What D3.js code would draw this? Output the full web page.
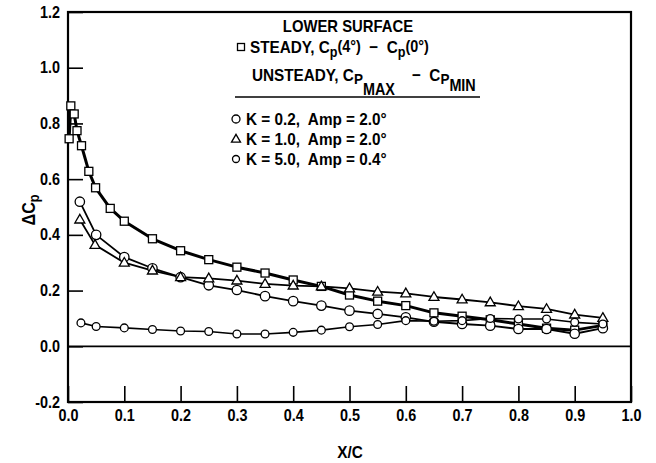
<html>
<head>
<style type="text/css">
	body { margin: 0; background: white; }
	.chart text { font-family: "Liberation Sans", Arial, sans-serif; font-weight: bold; fill: black; white-space: pre; }
	.chart .tick line { stroke: black; stroke-width: 1.6; }
</style>
</head>
<body>
<svg class="chart" width=656 height=463></svg>
<script src='https://d3js.org/d3.v7.min.js'></script>
<script>
// x/c stations and delta Cp for each case
var steadyX = [0.002, 0.005, 0.011, 0.016, 0.024, 0.037, 0.049, 0.075, 0.1, 0.15, 0.2, 0.25, 0.3, 0.35, 0.4, 0.45, 0.5, 0.55, 0.6, 0.65, 0.7, 0.75, 0.8, 0.85, 0.9, 0.95];
var steadyY = [0.745, 0.863, 0.834, 0.774, 0.72, 0.628, 0.569, 0.495, 0.449, 0.386, 0.343, 0.311, 0.284, 0.263, 0.238, 0.215, 0.184, 0.162, 0.146, 0.12, 0.108, 0.095, 0.08, 0.065, 0.058, 0.075];

var k02X = [0.021, 0.05, 0.1, 0.15, 0.2, 0.25, 0.3, 0.35, 0.4, 0.45, 0.5, 0.55, 0.6, 0.65, 0.7, 0.75, 0.8, 0.85, 0.9, 0.95];
var k02Y = [0.519, 0.40, 0.32, 0.28, 0.248, 0.219, 0.202, 0.18, 0.162, 0.146, 0.128, 0.116, 0.104, 0.088, 0.08, 0.074, 0.062, 0.062, 0.045, 0.065];

var k10X = [0.021, 0.048, 0.1, 0.15, 0.2, 0.25, 0.3, 0.35, 0.4, 0.45, 0.5, 0.55, 0.6, 0.65, 0.7, 0.75, 0.8, 0.85, 0.9, 0.95];
var k10Y = [0.455, 0.364, 0.30, 0.272, 0.248, 0.244, 0.236, 0.224, 0.218, 0.215, 0.208, 0.196, 0.19, 0.177, 0.168, 0.158, 0.144, 0.134, 0.114, 0.102];

var k50X = [0.023, 0.05, 0.1, 0.15, 0.2, 0.25, 0.3, 0.35, 0.4, 0.45, 0.5, 0.55, 0.6, 0.65, 0.7, 0.75, 0.8, 0.85, 0.9, 0.95];
var k50Y = [0.084, 0.071, 0.066, 0.06, 0.055, 0.053, 0.044, 0.044, 0.05, 0.058, 0.07, 0.078, 0.092, 0.09, 0.092, 0.1, 0.098, 0.098, 0.086, 0.08];

var xTicks = [0, 0.1, 0.2, 0.3, 0.4, 0.5, 0.6, 0.7, 0.8, 0.9, 1.0];
var yTicks = [-0.2, 0, 0.2, 0.4, 0.6, 0.8, 1.0, 1.2];

var series = [
	{ name: "steady", x: steadyX, y: steadyY, marker: "square", width: 3, size: 8 },
	{ name: "k02", x: k02X, y: k02Y, marker: "circle", width: 1.8, size: 4.7 },
	{ name: "k10", x: k10X, y: k10Y, marker: "triangle", width: 1.8, size: 10 },
	{ name: "k50", x: k50X, y: k50Y, marker: "circle", width: 1.6, size: 3.9 }
];

// the original lettering is a narrow bold face, so squeeze the text a bit
var sqTick = 0.9;
var sqText = 0.9;

var svg = d3.select("svg");

var xScale = d3.scaleLinear().domain([0, 1]).range([68, 631]);
var yScale = d3.scaleLinear().domain([-0.2, 1.2]).range([402, 12]);

function fmt(d) { return (d < 0 ? "-" : "") + Math.abs(d).toFixed(1); }

//Axes (ticks point inward)
var yAxis = svg.append("g")
	.attr("transform", "translate(68,0)")
	.call(d3.axisLeft(yScale).tickValues(yTicks).tickSize(-15).tickPadding(8).tickFormat(fmt));
yAxis.select(".domain").remove();
yAxis.selectAll("text")
	.style("font-size", "16px")
	.attr("x", -8 / sqTick)
	.attr("transform", "scale(" + sqTick + ",1)");

var xAxis = svg.append("g")
	.attr("transform", "translate(0,402)")
	.call(d3.axisBottom(xScale).tickValues(xTicks).tickSize(-16).tickPadding(8).tickFormat(fmt));
xAxis.select(".domain").remove();
xAxis.selectAll("text")
	.style("font-size", "16px")
	.attr("transform", "scale(" + sqTick + ",1)");

//Frame and zero line
svg.append("rect")
	.attr("x", xScale(0)).attr("y", yScale(1.2))
	.attr("width", xScale(1) - xScale(0)).attr("height", yScale(-0.2) - yScale(1.2))
	.style("fill", "none").style("stroke", "black").style("stroke-width", 2.2);

svg.append("line")
	.attr("x1", xScale(0)).attr("x2", xScale(1))
	.attr("y1", yScale(0)).attr("y2", yScale(0))
	.style("stroke", "black").style("stroke-width", 1.8);

//Axis titles
svg.append("text")
	.attr("transform", "translate(350,458) scale(" + sqText + ",1)")
	.style("text-anchor", "middle").style("font-size", "17px")
	.text("X/C");

var yTitle = svg.append("text")
	.attr("transform", "translate(35,210) rotate(-90) scale(" + sqText + ",1)")
	.style("text-anchor", "middle").style("font-size", "18px");
yTitle.append("tspan").text("ΔC");
yTitle.append("tspan").attr("dy", 4).style("font-size", "14px").text("p");

//Lines
var line = d3.line();
series.forEach(function(s) {
	var pts = s.x.map(function(v, i) { return [xScale(v), yScale(s.y[i])]; });
	svg.append("path")
		.attr("d", line(pts))
		.style("fill", "none").style("stroke", "black")
		.style("stroke-width", s.width).style("stroke-linejoin", "round");
});

//Markers
function drawMarker(g, marker, size, cx, cy) {
	if (marker == "square") {
		g.append("rect")
			.attr("x", cx - size / 2).attr("y", cy - size / 2)
			.attr("width", size).attr("height", size)
			.style("fill", "white").style("stroke", "black").style("stroke-width", 1.3);
	} else if (marker == "circle") {
		g.append("circle")
			.attr("cx", cx).attr("cy", cy).attr("r", size)
			.style("fill", "white").style("stroke", "black").style("stroke-width", 1.3);
	} else {
		var h = size * 0.866;
		g.append("path")
			.attr("d", "M" + cx + "," + (cy - h * 0.6) + "L" + (cx + size / 2) + "," + (cy + h * 0.4) + "L" + (cx - size / 2) + "," + (cy + h * 0.4) + "Z")
			.style("fill", "white").style("stroke", "black").style("stroke-width", 1.3);
	}
}

var markerG = svg.append("g");
series.forEach(function(s) {
	s.x.forEach(function(v, i) {
		drawMarker(markerG, s.marker, s.size, xScale(v), yScale(s.y[i]));
	});
});

//Legend
var legend = svg.append("g");
var legendText = svg.append("g").attr("transform", "scale(" + sqText + ",1)");

legendText.append("text")
	.attr("x", 348 / sqText).attr("y", 32)
	.style("text-anchor", "middle").style("font-size", "16.5px")
	.text("LOWER SURFACE");

var steadyText = legendText.append("text").attr("x", 250 / sqText).attr("y", 53).style("font-size", "17px");
steadyText.append("tspan").text("STEADY, C");
steadyText.append("tspan").attr("dy", 4).style("font-size", "14px").text("p");
steadyText.append("tspan").attr("dy", -5).style("font-size", "16px").text("(4°)");
steadyText.append("tspan").attr("dy", 1).text("  −  C");
steadyText.append("tspan").attr("dy", 4).style("font-size", "14px").text("p");
steadyText.append("tspan").attr("dy", -5).style("font-size", "16px").text("(0°)");

var unsteadyText = legendText.append("text").attr("x", 252 / sqText).attr("y", 81).style("font-size", "17px");
unsteadyText.append("tspan").text("UNSTEADY, C");
unsteadyText.append("tspan").attr("dy", 3).style("font-size", "15px").text("P");
unsteadyText.append("tspan").attr("dy", 11).style("font-size", "16px").text("MAX");
unsteadyText.append("tspan").attr("dy", -14).text("    −  C");
unsteadyText.append("tspan").attr("dy", 3).style("font-size", "15px").text("P");
unsteadyText.append("tspan").attr("dy", 7).style("font-size", "16px").text("MIN");

legend.append("line")
	.attr("x1", 235).attr("x2", 480).attr("y1", 97).attr("y2", 97)
	.style("stroke", "black").style("stroke-width", 1.6);

var legendItems = [
	{ marker: "square", size: 7, x: 241, y: 47, label: null },
	{ marker: "circle", size: 4, x: 236, y: 119, label: "K = 0.2,  Amp = 2.0°" },
	{ marker: "triangle", size: 9, x: 236, y: 139, label: "K = 1.0,  Amp = 2.0°" },
	{ marker: "circle", size: 3.5, x: 236, y: 159, label: "K = 5.0,  Amp = 0.4°" }
];
legendItems.forEach(function(d) {
	drawMarker(legend, d.marker, d.size, d.x, d.y);
	if (d.label) {
		legendText.append("text")
			.attr("x", 246 / sqText).attr("y", d.y + 6)
			.style("font-size", "17px")
			.text(d.label);
	}
});
</script>
</body>
</html>
